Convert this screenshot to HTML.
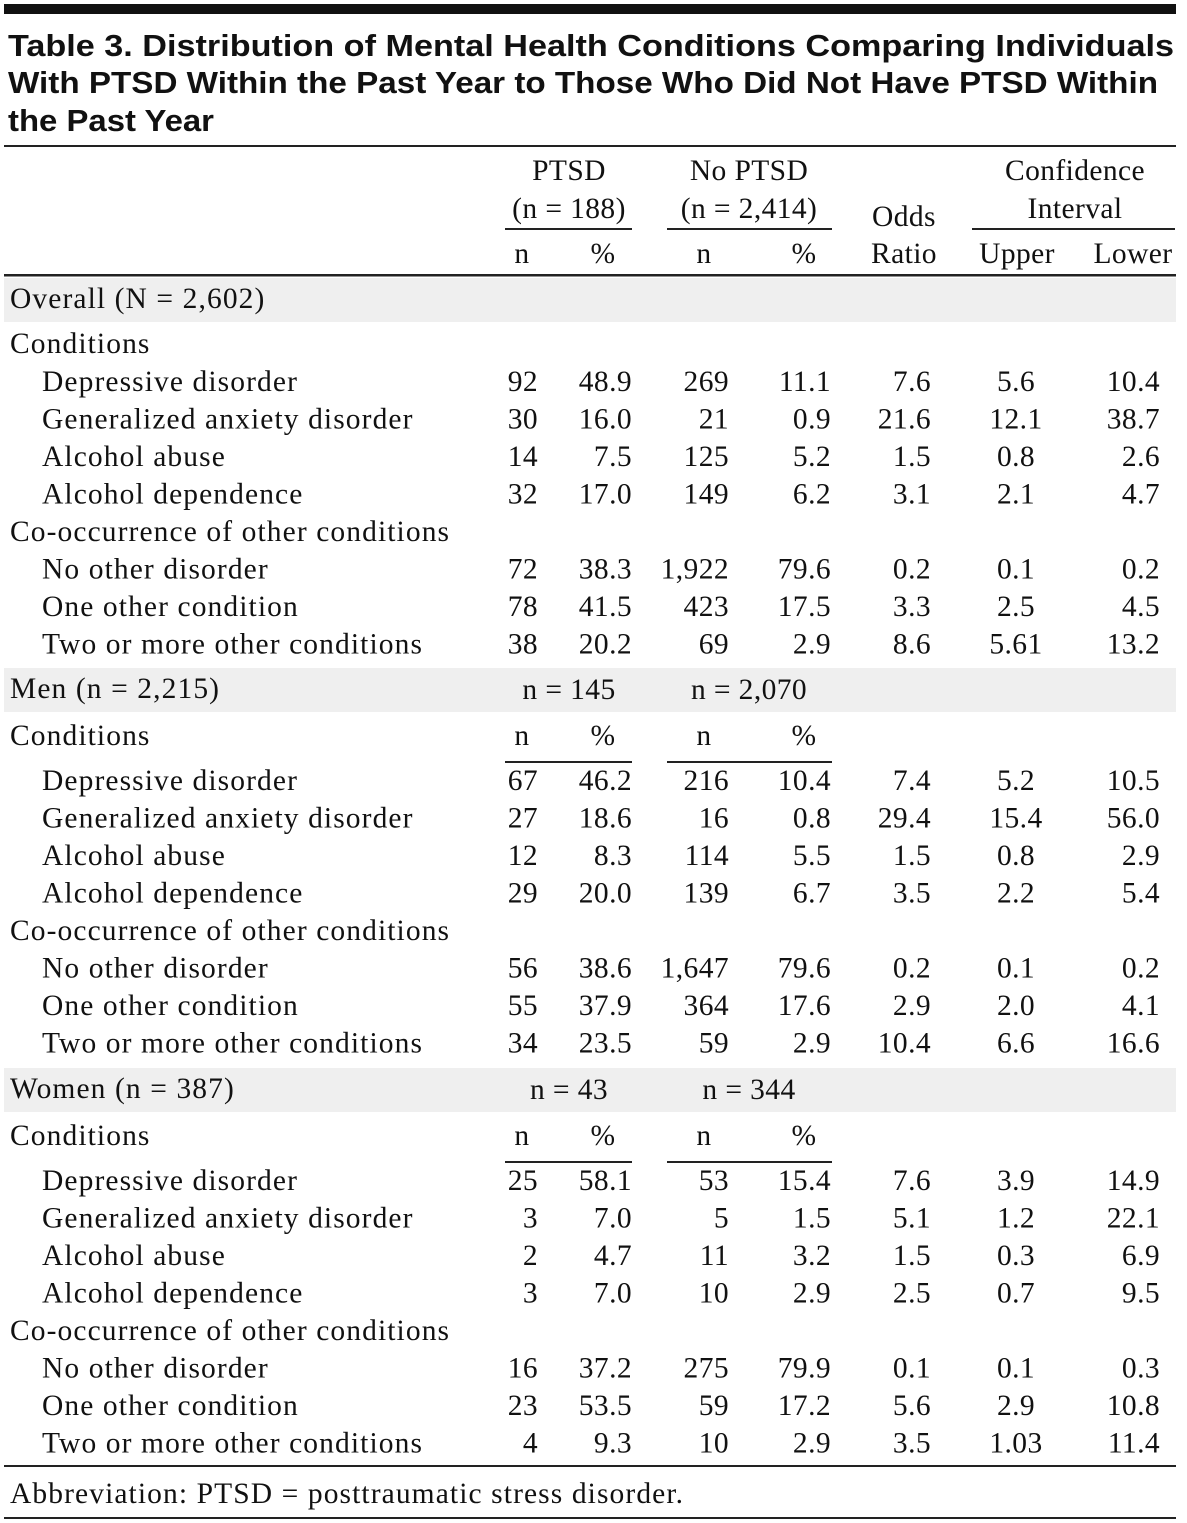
<!DOCTYPE html>
<html><head><meta charset="utf-8"><style>
html,body{margin:0;padding:0;background:#fff;}
svg{display:block;}
.t{font-family:"Liberation Sans",sans-serif;font-weight:bold;font-size:31px;fill:#111;}
.s{font-family:"Liberation Serif",serif;font-size:29.5px;letter-spacing:1.1px;fill:#111;}
.n{font-family:"Liberation Serif",serif;font-size:29.5px;letter-spacing:0.4px;fill:#111;}
</style></head><body>
<svg id="tbl" width="1187" height="1523" viewBox="0 0 1187 1523" xmlns="http://www.w3.org/2000/svg">
<rect x="4" y="4" width="1172" height="10" fill="#111"/>
<text class="t" x="8" y="56" textLength="1166" lengthAdjust="spacingAndGlyphs">Table 3. Distribution of Mental Health Conditions Comparing Individuals</text>
<text class="t" x="8" y="93" textLength="1150" lengthAdjust="spacingAndGlyphs">With PTSD Within the Past Year to Those Who Did Not Have PTSD Within</text>
<text class="t" x="8" y="131" textLength="206" lengthAdjust="spacingAndGlyphs">the Past Year</text>
<rect x="4" y="145" width="1172" height="2" fill="#222"/>
<g class="n">
<text x="569" y="180" text-anchor="middle">PTSD</text>
<text x="569" y="218" text-anchor="middle">(n = 188)</text>
<text x="749" y="180" text-anchor="middle">No PTSD</text>
<text x="749" y="218" text-anchor="middle">(n = 2,414)</text>
<text x="904" y="226" text-anchor="middle">Odds</text>
<text x="904" y="263" text-anchor="middle">Ratio</text>
<text x="1075" y="180" text-anchor="middle">Confidence</text>
<text x="1075" y="218" text-anchor="middle">Interval</text>
<text x="522" y="263" text-anchor="middle">n</text>
<text x="603" y="263" text-anchor="middle">%</text>
<text x="704" y="263" text-anchor="middle">n</text>
<text x="804" y="263" text-anchor="middle">%</text>
<text x="1017" y="263" text-anchor="middle">Upper</text>
<text x="1133" y="263" text-anchor="middle">Lower</text>
</g>
<rect x="505" y="228" width="127" height="2" fill="#222"/>
<rect x="667" y="228" width="165" height="2" fill="#222"/>
<rect x="972" y="228" width="203" height="2" fill="#222"/>
<rect x="4" y="274" width="1172" height="2.5" fill="#222"/>
<g id="body"></g>
<rect x="4" y="1465" width="1172" height="2" fill="#222"/>
<text class="s" x="10" y="1503">Abbreviation: PTSD = posttraumatic stress disorder.</text>
<rect x="4" y="1517" width="1172" height="2" fill="#222"/>
</svg>
<script>
const groupLabels=["Overall (N = 2,602)","Men (n = 2,215)","Women (n = 387)"];
const groupN=[null,["n = 145","n = 2,070"],["n = 43","n = 344"]];
const rowLabels=["Depressive disorder","Generalized anxiety disorder","Alcohol abuse","Alcohol dependence","No other disorder","One other condition","Two or more other conditions"];
const overall=[["92","48.9","269","11.1","7.6","5.6","10.4"],["30","16.0","21","0.9","21.6","12.1","38.7"],["14","7.5","125","5.2","1.5","0.8","2.6"],["32","17.0","149","6.2","3.1","2.1","4.7"],["72","38.3","1,922","79.6","0.2","0.1","0.2"],["78","41.5","423","17.5","3.3","2.5","4.5"],["38","20.2","69","2.9","8.6","5.61","13.2"]];
const men=[["67","46.2","216","10.4","7.4","5.2","10.5"],["27","18.6","16","0.8","29.4","15.4","56.0"],["12","8.3","114","5.5","1.5","0.8","2.9"],["29","20.0","139","6.7","3.5","2.2","5.4"],["56","38.6","1,647","79.6","0.2","0.1","0.2"],["55","37.9","364","17.6","2.9","2.0","4.1"],["34","23.5","59","2.9","10.4","6.6","16.6"]];
const women=[["25","58.1","53","15.4","7.6","3.9","14.9"],["3","7.0","5","1.5","5.1","1.2","22.1"],["2","4.7","11","3.2","1.5","0.3","6.9"],["3","7.0","10","2.9","2.5","0.7","9.5"],["16","37.2","275","79.9","0.1","0.1","0.3"],["23","53.5","59","17.2","5.6","2.9","10.8"],["4","9.3","10","2.9","3.5","1.03","11.4"]];
const groups=[overall,men,women];
const NS="http://www.w3.org/2000/svg";
const body=document.getElementById('body');
const colX=[538,632,729,831,931,1016,1160];
const colAnchor=["end","end","end","end","end","middle","end"];
function mk(tag,attrs,txt){const e=document.createElementNS(NS,tag);for(const k in attrs)e.setAttribute(k,attrs[k]);if(txt!=null)e.textContent=txt;body.appendChild(e);return e;}
const bandTop=[278,668,1068];
groups.forEach((g,gi)=>{
  const top=bandTop[gi];
  const band=mk('rect',{x:4,y:top,width:1172,height:44,fill:'#efefef'});
  
  
  const gl=mk('text',{class:'s',x:10,y:top+30},groupLabels[gi]);
  
  
  if(groupN[gi]){
    mk('text',{class:'n',x:569,y:top+31,'text-anchor':'middle'},groupN[gi][0]);
    mk('text',{class:'n',x:749,y:top+31,'text-anchor':'middle'},groupN[gi][1]);
  }
  const cy=top+75+(gi>0?2:0);
  const cl=mk('text',{class:'s',x:10,y:cy},'Conditions');
  
  
  let rowStart;
  if(gi>0){
    mk('text',{class:'n',x:522,y:cy,'text-anchor':'middle'},'n');
    mk('text',{class:'n',x:603,y:cy,'text-anchor':'middle'},'%');
    mk('text',{class:'n',x:704,y:cy,'text-anchor':'middle'},'n');
    mk('text',{class:'n',x:804,y:cy,'text-anchor':'middle'},'%');
    mk('rect',{x:505,y:cy+16,width:127,height:2,fill:'#222'});
    mk('rect',{x:667,y:cy+16,width:165,height:2,fill:'#222'});
    rowStart=cy+45;
  } else rowStart=cy+38;
  let y=rowStart;
  g.forEach((r,ri)=>{
    if(ri===4){
      const co=mk('text',{class:'s',x:10,y:y},'Co-occurrence of other conditions');
      
      
      y+=37.5;
    }
    const lab=mk('text',{class:'s',x:42,y:y},rowLabels[ri]);
    
    
    r.forEach((v,ci)=>{
      const c=mk('text',{class:'n',x:colX[ci],y:y,'text-anchor':colAnchor[ci]},v);
      
      
    });
    y+=37.5;
  });
});
</script>
</body></html>
